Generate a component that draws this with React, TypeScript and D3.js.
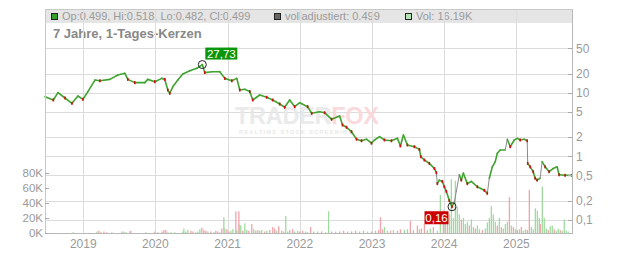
import React from "react";
import * as d3 from "d3";

// ---- data (decimal years / prices) ----
const priceDates = [
  2018.470, 2018.585, 2018.650, 2018.747, 2018.844, 2018.927, 2018.996, 2019.065, 2019.162, 2019.231,
  2019.369, 2019.480, 2019.577, 2019.618, 2019.715, 2019.853, 2019.895, 2019.992, 2020.089, 2020.130,
  2020.172, 2020.199, 2020.241, 2020.310, 2020.379, 2020.476, 2020.573, 2020.649, 2020.683, 2020.780,
  2020.891, 2020.960, 2021.057, 2021.126, 2021.167, 2021.237, 2021.306, 2021.347, 2021.444, 2021.541,
  2021.624, 2021.721, 2021.790, 2021.859, 2021.929, 2021.998, 2022.108, 2022.164, 2022.274, 2022.343,
  2022.440, 2022.551, 2022.592, 2022.647, 2022.716, 2022.786, 2022.855, 2022.924, 2022.993, 2023.035,
  2023.104, 2023.173, 2023.270, 2023.353, 2023.394, 2023.436, 2023.491, 2023.588, 2023.657, 2023.678,
  2023.726, 2023.795, 2023.865, 2023.892, 2023.906, 2023.934, 2023.975, 2024.003, 2024.030, 2024.072,
  2024.109, 2024.141, 2024.169, 2024.210, 2024.238, 2024.266, 2024.321, 2024.376, 2024.459, 2024.556,
  2024.597, 2024.625, 2024.666, 2024.707, 2024.735, 2024.776, 2024.845, 2024.873, 2024.914, 2024.970,
  2025.011, 2025.052, 2025.108, 2025.149, 2025.156, 2025.190, 2025.232, 2025.259, 2025.287, 2025.328,
  2025.356, 2025.398, 2025.453, 2025.508, 2025.564, 2025.591, 2025.674, 2025.771,
];
const priceValues = [
  8.65, 7.67, 10.0, 8.25, 6.8, 8.87, 7.87, 10.37, 15.8, 15.4,
  16.2, 19.0, 20.2, 16.2, 14.4, 14.4, 16.2, 14.9, 16.8, 16.2,
  11.0, 9.78, 12.4, 15.8, 19.7, 22.2, 24.2, 27.73, 20.7, 21.4,
  21.4, 16.8, 15.4, 16.8, 11.0, 11.3, 10.4, 7.67, 9.19, 8.46,
  7.67, 6.63, 5.89, 7.67, 6.02, 6.95, 6.02, 4.73, 5.02, 4.84,
  3.81, 4.3, 3.1, 2.85, 2.43, 1.85, 1.75, 1.85, 1.6, 1.8,
  2.03, 1.8, 1.75, 1.91, 1.45, 2.16, 1.5, 1.41, 1.28, 0.98,
  0.87, 0.77, 0.64, 0.55, 0.37, 0.42, 0.4, 0.33, 0.28, 0.2,
  0.16, 0.19, 0.28, 0.51, 0.42, 0.54, 0.37, 0.4, 0.33, 0.29,
  0.26, 0.45, 0.68, 0.82, 1.11, 1.25, 1.25, 1.85, 1.41, 1.8,
  1.91, 1.8, 1.85, 1.75, 0.77, 0.68, 0.57, 0.45, 0.42, 0.45,
  0.82, 0.68, 0.57, 0.64, 0.68, 0.51, 0.5, 0.499,
];

const volDates = [
  2018.858, 2019.189, 2019.217, 2019.245, 2019.286, 2019.328, 2019.397, 2019.535, 2019.563, 2019.591,
  2019.646, 2019.660, 2019.867, 2019.992, 2020.033, 2020.089, 2020.116, 2020.144, 2020.172, 2020.213,
  2020.268, 2020.379, 2020.393, 2020.421, 2020.448, 2020.490, 2020.518, 2020.559, 2020.587, 2020.614,
  2020.642, 2020.670, 2020.697, 2020.725, 2020.766, 2020.808, 2020.835, 2020.863, 2020.891, 2020.918,
  2020.946, 2020.960, 2020.988, 2021.015, 2021.043, 2021.071, 2021.112, 2021.126, 2021.154, 2021.167,
  2021.181, 2021.209, 2021.237, 2021.264, 2021.292, 2021.333, 2021.361, 2021.389, 2021.416, 2021.444,
  2021.472, 2021.513, 2021.541, 2021.582, 2021.624, 2021.651, 2021.679, 2021.707, 2021.748, 2021.776,
  2021.804, 2021.831, 2021.859, 2021.900, 2021.928, 2021.970, 2021.998, 2022.039, 2022.080, 2022.108,
  2022.149, 2022.191, 2022.246, 2022.301, 2022.357, 2022.398, 2022.440, 2022.495, 2022.551, 2022.606,
  2022.661, 2022.716, 2022.772, 2022.827, 2022.882, 2022.938, 2022.993, 2023.048, 2023.090, 2023.117,
  2023.145, 2023.173, 2023.214, 2023.256, 2023.297, 2023.353, 2023.394, 2023.449, 2023.491, 2023.532,
  2023.573, 2023.629, 2023.657, 2023.684, 2023.726, 2023.767, 2023.809, 2023.850, 2023.906, 2023.947,
  2023.989, 2024.016, 2024.044, 2024.072, 2024.099, 2024.127, 2024.155, 2024.182, 2024.210, 2024.238,
  2024.266, 2024.293, 2024.321, 2024.348, 2024.376, 2024.404, 2024.431, 2024.459, 2024.487, 2024.528,
  2024.569, 2024.597, 2024.625, 2024.652, 2024.680, 2024.708, 2024.735, 2024.763, 2024.791, 2024.818,
  2024.846, 2024.874, 2024.902, 2024.929, 2024.957, 2024.985, 2025.012, 2025.040, 2025.067, 2025.095,
  2025.123, 2025.150, 2025.178, 2025.206, 2025.233, 2025.261, 2025.289, 2025.316, 2025.330, 2025.358,
  2025.385, 2025.413, 2025.440, 2025.468, 2025.496, 2025.523, 2025.551, 2025.579, 2025.606, 2025.634,
  2025.662, 2025.689, 2025.717,
];
const volValues = [
  1, 2, 3, 1, 2, 1, 1, 2, 2, 1,
  2, 3, 1, 2, 1, 2, 4, 4, 1, 1,
  1, 2, 6, 2, 4, 3, 2, 1, 2, 5,
  7, 4, 3, 2, 2, 1, 3, 2, 1, 6,
  21, 6, 5, 2, 3, 5, 29, 4, 29, 11,
  10, 3, 13, 4, 3, 12, 5, 3, 4, 3,
  4, 2, 3, 4, 8, 6, 3, 9, 3, 2,
  23, 2, 4, 5, 2, 3, 2, 3, 2, 1,
  8, 2, 2, 2, 1, 29, 2, 2, 2, 3,
  2, 2, 3, 2, 3, 2, 2, 3, 4, 21,
  5, 8, 3, 3, 4, 3, 5, 4, 5, 16,
  4, 10, 5, 6, 12, 4, 6, 8, 3, 51,
  30, 20, 15, 25, 72, 20, 70, 35, 25, 18,
  20, 12, 15, 10, 18, 8, 6, 10, 5, 4,
  6, 14, 20, 36, 25, 15, 10, 20, 8, 6,
  12, 15, 48, 10, 8, 5, 4, 5, 8, 3,
  5, 4, 58, 8, 5, 33, 30, 20, 12, 62,
  20, 6, 4, 9, 10, 5, 3, 6, 4, 3,
  18, 3, 2,
];
const volDir = [
  "u", "u", "d", "d", "d", "d", "u", "u", "u", "u",
  "u", "d", "u", "d", "u", "d", "d", "d", "u", "u",
  "u", "u", "u", "u", "u", "d", "d", "u", "u", "u",
  "d", "d", "d", "u", "d", "u", "d", "d", "u", "d",
  "u", "u", "d", "d", "u", "u", "d", "u", "d", "u",
  "u", "d", "u", "u", "d", "d", "u", "d", "u", "d",
  "u", "d", "u", "d", "d", "d", "u", "d", "d", "u",
  "u", "u", "d", "d", "u", "u", "d", "d", "u", "u",
  "d", "u", "u", "d", "u", "u", "d", "u", "d", "d",
  "u", "d", "d", "u", "d", "u", "d", "u", "d", "d",
  "d", "u", "u", "d", "u", "d", "d", "u", "u", "d",
  "u", "d", "u", "d", "d", "u", "u", "d", "u", "u",
  "d", "u", "d", "u", "u", "u", "u", "u", "u", "d",
  "u", "u", "u", "d", "u", "u", "d", "u", "u", "d",
  "u", "u", "u", "u", "u", "u", "d", "u", "d", "u",
  "u", "u", "d", "u", "d", "u", "d", "u", "d", "u",
  "u", "d", "d", "u", "u", "u", "u", "u", "d", "u",
  "u", "u", "d", "u", "u", "d", "u", "u", "d", "u",
  "u", "u", "u",
];

const priceTicks = [50, 20, 10, 5, 2, 1, 0.5, 0.2, 0.1];
const volTicks = [0, 20, 40, 60, 80];
const legendItems = [
  { label: "Op:0.499, Hi:0.518, Lo:0.482, Cl:0.499", color: "#33a02c" },
  { label: "volladjustiert: 0.499", color: "#666666" },
  { label: "Vol: 16.19K", color: "#b5e3b5" },
];
const titleText = "7 Jahre, 1-Tages-Kerzen";
const domainStart = 2018.47;
const domainEnd = 2025.77;

// ---- helpers ----
const toDate = (f: number) => {
  const y = Math.floor(f);
  const s = Date.UTC(y, 0, 1);
  const e = Date.UTC(y + 1, 0, 1);
  return new Date(s + (f - y) * (e - s));
};
const fmtComma = (v: number, p = 2) => d3.format(`.${p}f`)(v).replace(".", ",");
const tickLabel = (v: number) => String(v).replace(".", ",");

const FONT = "'Liberation Sans', Arial, sans-serif";

export default function App() {
  const L = 45, R = 572, T = 9, B = 233;
  const x = d3.scaleUtc().domain([toDate(domainStart), toDate(domainEnd)]).range([L, R]);
  const yP = d3.scaleLog().domain([50, 0.1]).range([48.3, 219.7]);
  const yV = d3.scaleLinear().domain([0, 80]).range([B, 173.3]);

  const years = d3.utcYear.range(toDate(domainStart), toDate(domainEnd));

  const pts = priceDates.map((d, i) => ({ x: x(toDate(d)), y: yP(priceValues[i]), v: priceValues[i] }));
  const segs = pts.slice(1).map((p, i) => {
    const a = pts[i];
    const steep = Math.abs(p.y - a.y) > 2.5 * Math.abs(p.x - a.x) + 5;
    return { a, b: p, steep };
  });

  const maxI = d3.maxIndex(priceValues);
  const minI = d3.minIndex(priceValues);
  const pk = pts[maxI];
  const lo = pts[minI];

  return (
    <svg width={632} height={253} style={{ position: "absolute", left: 0, top: 0, display: "block", background: "#fff" }}
      fontFamily={FONT}>
      {/* header band */}
      <rect x={L} y={T} width={R - L} height={14} fill="#e5e5e5" />
      {legendItems.map((it, i) => {
        const xs = [51, 274, 405][i];
        return (
          <g key={i}>
            <rect x={xs + 0.5} y={13.5} width={6} height={6} fill={it.color} stroke="#222" strokeWidth={1} />
            <text x={xs + 11} y={20} fontSize={11} fill="#9a9a9a">{it.label}</text>
          </g>
        );
      })}
      <text x={53} y={38} fontSize={13} fontWeight="bold" fill="#888">{titleText}</text>

      {/* grid */}
      {priceTicks.map((t) => (
        <line key={t} x1={L} x2={R} y1={Math.round(yP(t)) + 0.5} y2={Math.round(yP(t)) + 0.5} stroke="#dcdcdc" />
      ))}
      {years.map((d) => (
        <line key={+d} x1={Math.round(x(d)) + 0.5} x2={Math.round(x(d)) + 0.5} y1={T} y2={B} stroke="#dcdcdc" />
      ))}

      {/* watermark */}
      <g opacity={0.9}>
        <text x={235} y={124} fontSize={23.5} fontWeight="bold" fill="#e8e8e8" letterSpacing={-0.3}>
          TRADER<tspan fill="#fad6da">FOX</tspan>
        </text>
        <text x={239} y={134} fontSize={5.5} fontWeight="bold" fill="#e6e6e6" letterSpacing={1.35}>REALTIME STOCK SCREENING</text>
      </g>

      {/* volume */}
      {volDates.map((d, i) => {
        const xx = x(toDate(d));
        const y0 = yV(volValues[i]);
        return (
          <rect key={i} x={xx - 0.6} y={y0} width={1.3} height={B - y0}
            fill={volDir[i] === "u" ? "#9fda9f" : "#f2a2aa"} />
        );
      })}

      {/* price line */}
      {segs.map((s, i) => (
        <line key={i} x1={s.a.x} y1={s.a.y} x2={s.b.x} y2={s.b.y}
          stroke={s.steep ? "#8a8a8a" : "#3fa32f"} strokeWidth={s.steep ? 1 : 1.6} strokeLinecap="round" />
      ))}
      {pts.map((p, i) =>
        i > 0 && p.v < pts[i - 1].v ? (
          <rect key={i} x={p.x - 0.8} y={p.y - 1.5} width={1.6} height={3} fill="#d01010" />
        ) : null
      )}

      {/* axes */}
      <line x1={L + 0.5} x2={L + 0.5} y1={T} y2={B} stroke="#c8c8c8" />
      <line x1={R + 0.5} x2={R + 0.5} y1={T} y2={B} stroke="#b8b8b8" />
      <line x1={L} x2={R + 1} y1={T + 0.5} y2={T + 0.5} stroke="#c8c8c8" />
      <line x1={L} x2={R + 1} y1={B + 0.5} y2={B + 0.5} stroke="#b8b8b8" />

      {priceTicks.map((t) => (
        <g key={t}>
          <line x1={R - 4} x2={R} y1={Math.round(yP(t)) + 0.5} y2={Math.round(yP(t)) + 0.5} stroke="#aaa" />
          <text x={576} y={yP(t)} dy="0.36em" fontSize={12} fill="#9a9a9a">{tickLabel(t)}</text>
        </g>
      ))}
      {volTicks.map((t) => (
        <g key={t}>
          <line x1={L} x2={L + 4} y1={Math.round(yV(t)) + 0.5} y2={Math.round(yV(t)) + 0.5} stroke="#aaa" />
          <text x={43} y={yV(t)} dy="0.36em" fontSize={11.5} fill="#9a9a9a" textAnchor="end">{t}K</text>
        </g>
      ))}
      {years.map((d) => (
        <text key={+d} x={x(d)} y={248} fontSize={12} fill="#9a9a9a" textAnchor="middle">{d.getUTCFullYear()}</text>
      ))}

      {/* high / low markers */}
      <circle cx={pk.x} cy={pk.y} r={4} fill="none" stroke="#222" strokeWidth={1} />
      <rect x={pk.x + 3} y={pk.y - 17} width={32} height={12} fill="#0a960a" />
      <text x={pk.x + 19} y={pk.y - 7} fontSize={11.5} fill="#fff" textAnchor="middle">{fmtComma(priceValues[maxI])}</text>

      <circle cx={lo.x} cy={lo.y} r={4} fill="none" stroke="#222" strokeWidth={1} />
      <rect x={lo.x - 27.5} y={lo.y + 4.5} width={24} height={13} fill="#cc0000" />
      <text x={lo.x - 15.5} y={lo.y + 15} fontSize={11.5} fill="#fff" textAnchor="middle">{fmtComma(priceValues[minI])}</text>
    </svg>
  );
}
